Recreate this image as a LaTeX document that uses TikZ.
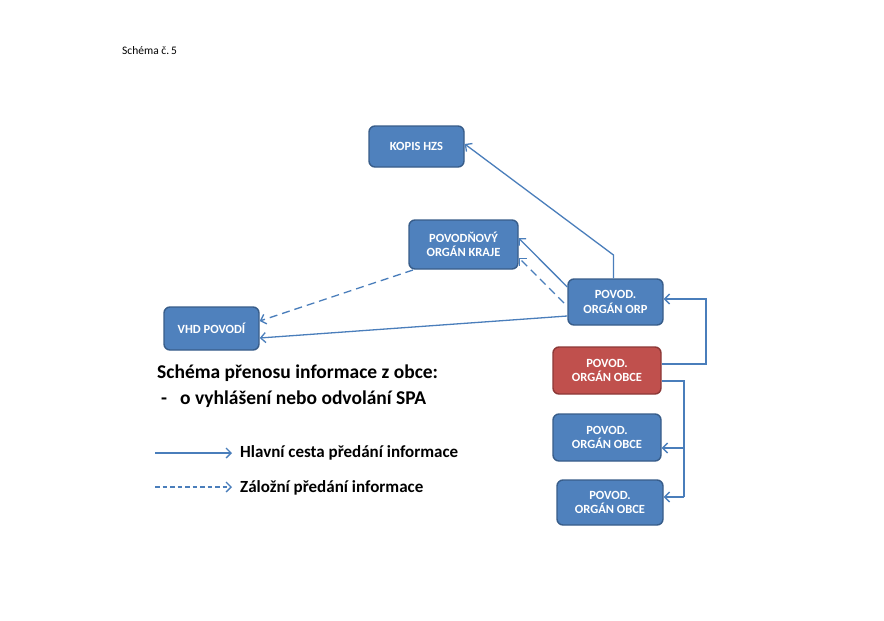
\documentclass[tikz,border=0pt]{standalone}
\usepackage{fontspec}
\setmainfont{Carlito}
\usetikzlibrary{arrows.meta}
\definecolor{boxblue}{HTML}{4F81BD}
\definecolor{boxblueb}{HTML}{385D8A}
\definecolor{boxred}{HTML}{C0504D}
\definecolor{boxredb}{HTML}{8C3836}
\definecolor{arr}{HTML}{4A7EBB}
\tikzset{
  orgbox/.style={draw=boxblueb, fill=boxblue, line width=1.4pt, rounded corners=6pt,
    text=white, font=\bfseries\fontsize{12.5}{14.5}\selectfont, align=center, inner sep=0pt},
  redbox/.style={orgbox, draw=boxredb, fill=boxred},
  mainline/.style={draw=arr, line width=1.3pt, -{Straight Barb[length=5pt,width=10pt,line width=1.3pt]}},
  backline/.style={mainline, dash pattern=on 8pt off 5pt},
  plainline/.style={draw=arr, line width=1.3pt},
  txt/.style={anchor=base west, inner sep=0pt}
}
\begin{document}
\begin{tikzpicture}[x=1pt,y=-1pt]
\useasboundingbox (0,0) rectangle (884,621);
\fill[white] (0,0) rectangle (884,621);
% boxes
\node[orgbox, minimum width=95pt, minimum height=41pt] (kopis) at (416.5,146.5) {KOPIS HZS};
\node[orgbox, minimum width=109pt, minimum height=49pt] (kraj) at (463.5,244.5) {POVODŇOVÝ\\ORGÁN KRAJE};
\node[orgbox, minimum width=95pt, minimum height=46pt] (orp) at (615.5,302) {POVOD.\\ORGÁN ORP};
\node[orgbox, minimum width=95pt, minimum height=43pt] (vhd) at (211.5,328.5) {VHD POVODÍ};
\node[redbox, minimum width=108pt, minimum height=47pt] (obce1) at (607,370.5) {POVOD.\\ORGÁN OBCE};
\node[orgbox, minimum width=108pt, minimum height=47pt] (obce2) at (607,437.5) {POVOD.\\ORGÁN OBCE};
\node[orgbox, minimum width=106pt, minimum height=45pt] (obce3) at (610,502.5) {POVOD.\\ORGÁN OBCE};
% connectors
\coordinate (bendk) at (613.5,255);
\draw[mainline] (orp.north -| bendk) -- (bendk) -- (kopis.east |- 0,144);
\draw[mainline] (orp.west |- 0,287) -- (518.5,238);
\draw[backline] (564,303) -- (519,258);
\draw[backline] (413,270) -- (vhd.east |- 0,321);
\draw[mainline] (orp.west |- 0,316) -- (vhd.east |- 0,338);
\coordinate (r1) at (706,364);
\draw[mainline] (obce1.east |- r1) -- (r1) -- (706,299) -- (orp.east |- 0,299);
\coordinate (r2) at (684,381);
\draw[plainline] (obce1.east |- r2) -- (r2) -- (684,497);
\draw[mainline] (684,448) -- (obce2.east |- 0,448);
\draw[mainline] (684,497) -- (obce3.east |- 0,497);
% texts
\node[txt, font=\fontsize{11.5}{13}\selectfont] (cap) at (122,54) {Schéma č.\,5};
\node[txt, font=\bfseries\fontsize{19.5}{22}\selectfont] (title) at (157,378) {Schéma přenosu informace z obce:};
\node[txt, font=\bfseries\fontsize{19.5}{22}\selectfont] (dash) at (161,404) {-};
\node[txt, font=\bfseries\fontsize{19.5}{22}\selectfont] (sub) at (180,404) {o vyhlášení nebo odvolání SPA};
\coordinate (l1a) at (155,453); \coordinate (l1b) at (232,453);
\coordinate (l2a) at (155,487); \coordinate (l2b) at (232,487);
\draw[mainline] (l1a) -- (l1b);
\draw[backline, dash pattern=on 4.5pt off 3pt] (l2a) -- (l2b);
\node[txt, font=\bfseries\fontsize{17}{18}\selectfont] (leg1) at (240,457) {Hlavní cesta předání informace};
\node[txt, font=\bfseries\fontsize{17}{18}\selectfont] (leg2) at (240,492) {Záložní předání informace};
\end{tikzpicture}
\end{document}
